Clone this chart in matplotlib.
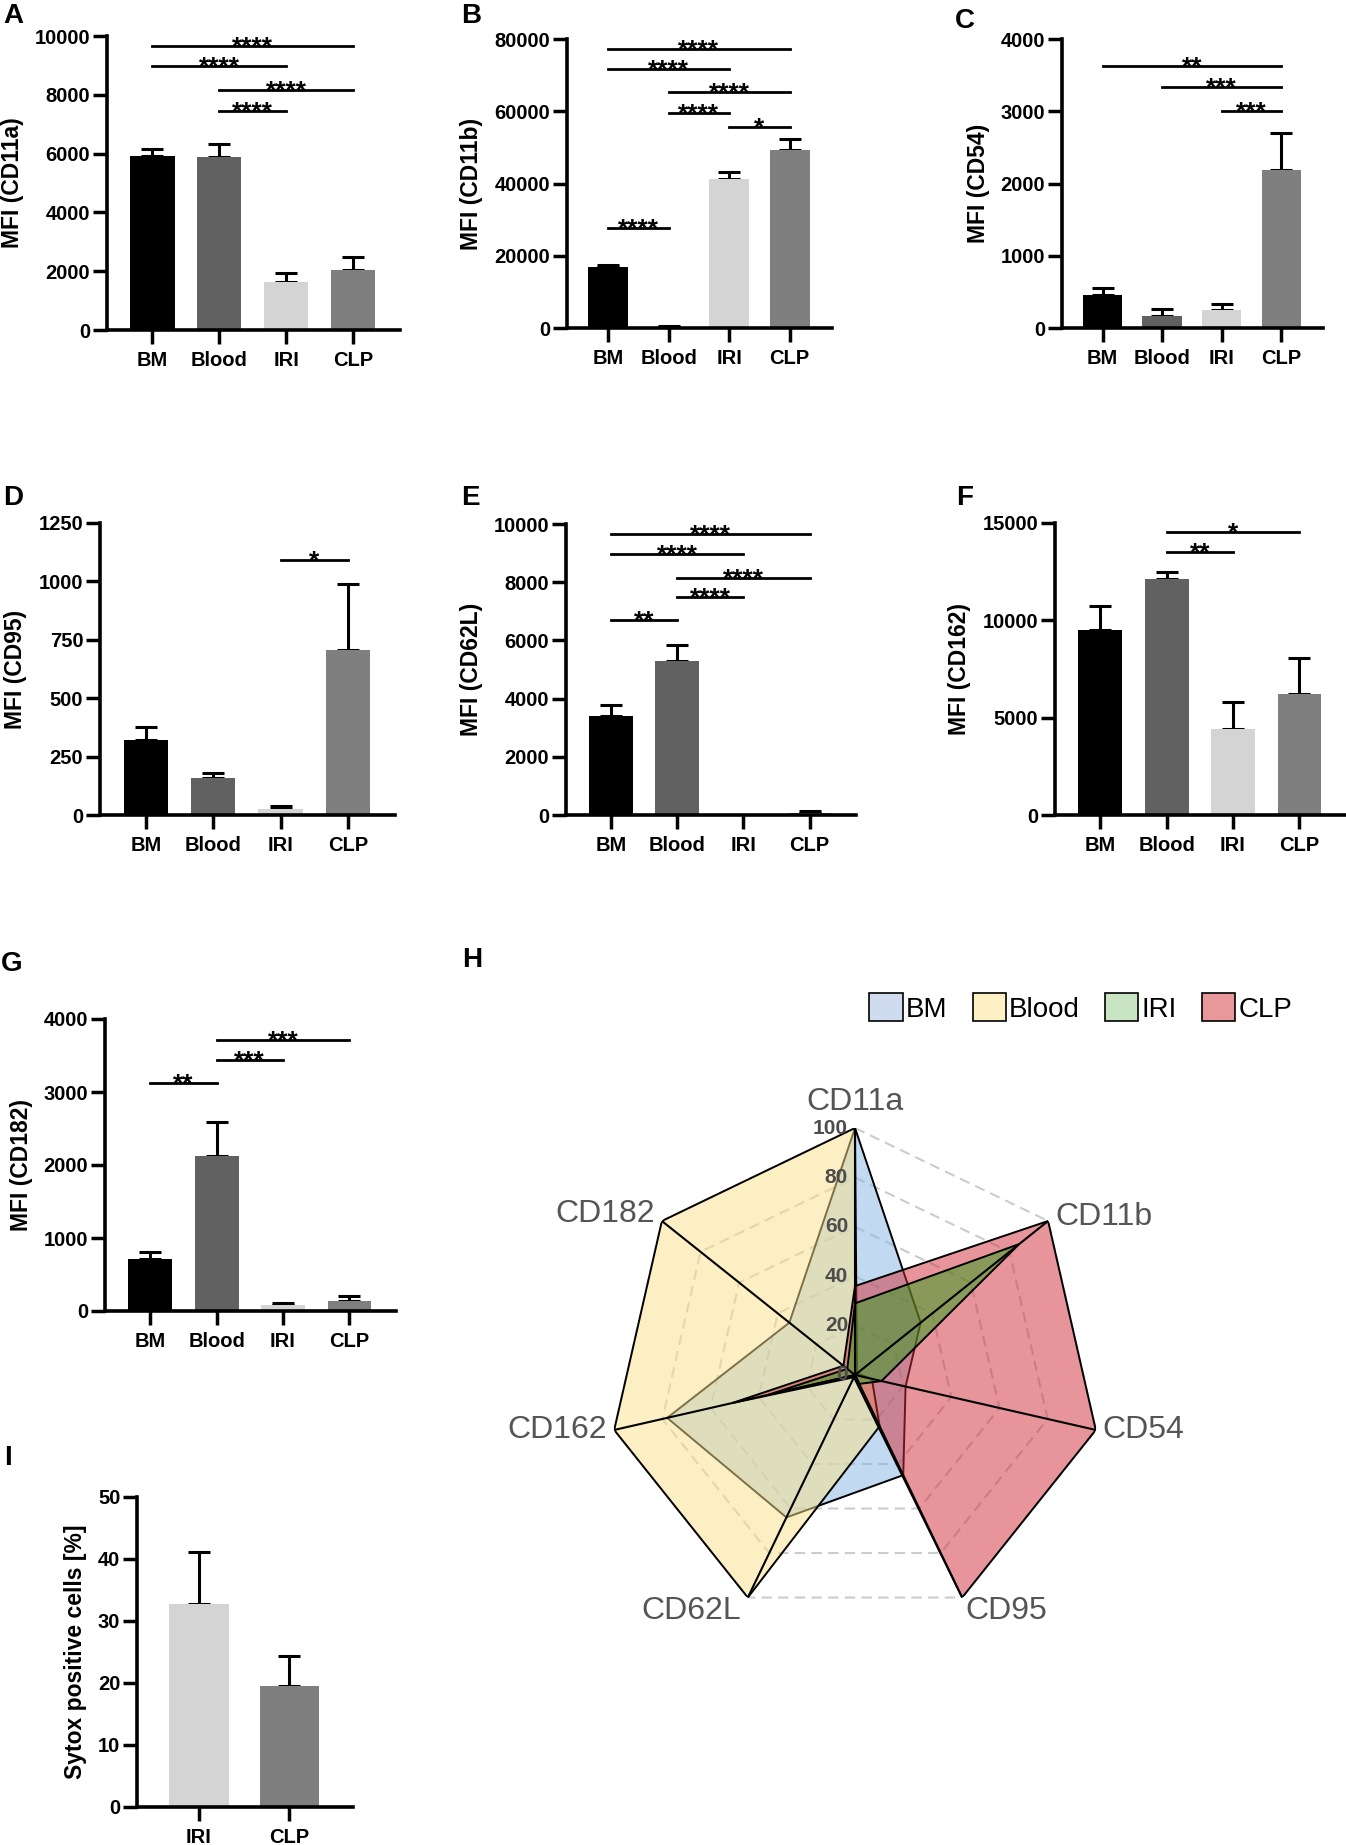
import numpy as np
import matplotlib
matplotlib.use('Agg')
import matplotlib.pyplot as plt
from matplotlib.colors import to_rgba
from matplotlib.patches import Patch

plt.rcParams['font.family'] = ['Liberation Sans', 'DejaVu Sans']

# groupes et couleurs des barres
groupes = ['BM', 'Blood', 'IRI', 'CLP']
gris = ['#000000', '#616161', '#d4d4d4', '#7f7f7f']

# moyennes / erreurs
cd11a_moy = [5920, 5900, 1640, 2040]
cd11a_err = [250, 410, 310, 450]
cd11b_moy = [16800, 350, 41200, 49200]
cd11b_err = [550, 150, 1950, 3100]
cd54_moy = [460, 160, 245, 2180]
cd54_err = [100, 100, 90, 520]
cd95_moy = [320, 160, 25, 707]
cd95_err = [55, 18, 15, 280]
cd62l_moy = [3400, 5300, 10, 60]
cd62l_err = [380, 530, 5, 80]
cd162_moy = [9480, 12120, 4400, 6200]
cd162_err = [1270, 360, 1380, 1850]
cd182_moy = [714, 2130, 82, 137]
cd182_err = [96, 465, 32, 73]
sytox_groupes = ['IRI', 'CLP']
sytox_moy = [32.7, 19.5]
sytox_err = [8.5, 4.8]

# comparaisons : (groupe 1, groupe 2), hauteur, etoiles
cd11a_paires = [(0, 3), (0, 2), (1, 3), (1, 2)]
cd11a_hauteurs = [9660, 8980, 8160, 7460]
cd11a_etoiles = ['****', '****', '****', '****']
cd11b_paires = [(0, 3), (0, 2), (1, 3), (1, 2), (2, 3), (0, 1)]
cd11b_hauteurs = [77200, 71800, 65300, 59500, 55600, 27600]
cd11b_etoiles = ['****', '****', '****', '****', '*', '****']
cd54_paires = [(0, 3), (1, 3), (2, 3)]
cd54_hauteurs = [3630, 3340, 3010]
cd54_etoiles = ['**', '***', '***']
cd95_paires = [(2, 3)]
cd95_hauteurs = [1090]
cd95_etoiles = ['*']
cd62l_paires = [(0, 3), (0, 2), (1, 3), (1, 2), (0, 1)]
cd62l_hauteurs = [9660, 8970, 8140, 7480, 6710]
cd62l_etoiles = ['****', '****', '****', '****', '**']
cd162_paires = [(1, 3), (1, 2)]
cd162_hauteurs = [14520, 13490]
cd162_etoiles = ['*', '**']
cd182_paires = [(1, 3), (1, 2), (0, 1)]
cd182_hauteurs = [3716, 3437, 3130]
cd182_etoiles = ['***', '***', '**']

# radar (% du max)
radar_noms = ['CD11a', 'CD11b', 'CD54', 'CD95', 'CD62L', 'CD162', 'CD182']
radar_bm = [100, 34, 21, 45, 64, 78, 34]
radar_blood = [100, 1, 7, 23, 100, 100, 100]
radar_iri = [29, 85, 11, 4, 0, 36, 4]
radar_clp = [36, 100, 100, 100, 1, 51, 6]
radar_couleurs = ['#87b7e5', '#fbe189', '#2c9e1b', '#d12d37']
legende_couleurs = ['#cfdcf0', '#fdf0c4', '#c8e4c0', '#e89898']
radar_graduations = [0, 20, 40, 60, 80, 100]

W, H = 1346, 1845
fig = plt.figure(figsize=(W / 100, H / 100), dpi=100)


def axes_px(gauche, droite, y0, yhaut):
    '''axes placés en pixels (origine en haut à gauche)'''
    return fig.add_axes([gauche / W, 1 - y0 / H, (droite - gauche) / W, (y0 - yhaut) / H])


def barres(ax, cats, moy, err, couleurs, ymax, pas, ylabel,
           paires=(), hauteurs=(), etoiles=()):
    n = len(cats)
    x = np.arange(n)
    ax.bar(x, moy, width=0.66, color=couleurs, zorder=2)
    ax.errorbar(x, moy, yerr=[np.zeros(n), err], fmt='none', ecolor='black',
                elinewidth=2.2, capsize=8, capthick=2.2, zorder=1)
    ax.set_xlim(-0.68, n - 1 + 0.7)
    ax.set_ylim(0, ymax)
    ax.set_xticks(x, cats)
    ax.set_yticks(np.arange(0, ymax + pas / 2, pas))
    for s in ['top', 'right']:
        ax.spines[s].set_visible(False)
    for s in ['left', 'bottom']:
        ax.spines[s].set_linewidth(2.6)
    ax.tick_params(axis='y', width=2.5, length=10, labelsize=14.5, pad=2)
    ax.tick_params(axis='x', width=2.5, length=10, labelsize=14.5, pad=5)
    for lab in ax.get_xticklabels() + ax.get_yticklabels():
        lab.set_fontweight('bold')
    ax.set_ylabel(ylabel, fontsize=16.5, fontweight='bold', labelpad=8)
    # barres de significativité
    for (a, b), h, e in zip(paires, hauteurs, etoiles):
        ax.plot([a, b], [h, h], color='black', lw=2, clip_on=False, zorder=3)
        ax.annotate(e, xy=((a + b) / 2, h), xytext=(0, -6), textcoords='offset points',
                    ha='center', va='baseline', fontsize=19, fontweight='bold')


axA = axes_px(107, 400, 330, 36)
barres(axA, groupes, cd11a_moy, cd11a_err, gris, 10000, 2000, 'MFI (CD11a)',
       cd11a_paires, cd11a_hauteurs, cd11a_etoiles)
axB = axes_px(567, 832, 328, 39)
barres(axB, groupes, cd11b_moy, cd11b_err, gris, 80000, 20000, 'MFI (CD11b)',
       cd11b_paires, cd11b_hauteurs, cd11b_etoiles)
axC = axes_px(1062, 1323, 328, 39)
barres(axC, groupes, cd54_moy, cd54_err, gris, 4000, 1000, 'MFI (CD54)',
       cd54_paires, cd54_hauteurs, cd54_etoiles)
axD = axes_px(100, 395, 815, 523)
barres(axD, groupes, cd95_moy, cd95_err, gris, 1250, 250, 'MFI (CD95)',
       cd95_paires, cd95_hauteurs, cd95_etoiles)
axE = axes_px(566, 856, 815, 524)
barres(axE, groupes, cd62l_moy, cd62l_err, gris, 10000, 2000, 'MFI (CD62L)',
       cd62l_paires, cd62l_hauteurs, cd62l_etoiles)
axF = axes_px(1055, 1346, 815, 523)
barres(axF, groupes, cd162_moy, cd162_err, gris, 15000, 5000, 'MFI (CD162)',
       cd162_paires, cd162_hauteurs, cd162_etoiles)
axG = axes_px(105, 396, 1311, 1019)
barres(axG, groupes, cd182_moy, cd182_err, gris, 4000, 1000, 'MFI (CD182)',
       cd182_paires, cd182_hauteurs, cd182_etoiles)
axI = axes_px(137, 353, 1807, 1497)
barres(axI, sytox_groupes, sytox_moy, sytox_err, gris[2:], 50, 10, 'Sytox positive cells [%]')

# lettres des panneaux
lettres = {'A': (3, 3), 'B': (461, 3), 'C': (955, 8), 'D': (3, 485), 'E': (461, 485),
           'F': (956, 485), 'G': (1, 951), 'H': (462, 947), 'I': (4, 1445)}
for l, (px, py) in lettres.items():
    fig.text(px / W, 1 - py / H, l, fontsize=20, fontweight='bold', ha='left', va='top')

# radar
cx, cy, R = 855, 1375, 247
axH = fig.add_axes([(cx - R) / W, 1 - (cy + R) / H, 2 * R / W, 2 * R / H], projection='polar')
axH.set_theta_offset(np.pi / 2)
axH.set_theta_direction(-1)
axH.set_ylim(0, 100)
axH.grid(False)
axH.spines['polar'].set_visible(False)
axH.set_xticks([])
axH.set_yticks([])
axH.patch.set_visible(False)

angles = np.arange(len(radar_noms)) * 2 * np.pi / len(radar_noms)
angles_f = np.append(angles, angles[0])
for r in radar_graduations[1:]:
    axH.plot(angles_f, [r] * len(angles_f), ls=(0, (5, 3)), color='#cccccc', lw=1.5, zorder=0)

# ordre de dessin : BM, Blood, CLP puis IRI par-dessus
series = [radar_bm, radar_blood, radar_clp, radar_iri]
couleurs = [radar_couleurs[0], radar_couleurs[1], radar_couleurs[3], radar_couleurs[2]]
for vals, c in zip(series, couleurs):
    v = np.append(vals, vals[0])
    axH.fill(angles_f, v, facecolor=to_rgba(c, 0.5), edgecolor='black', lw=1.4, zorder=2)

# rayons noirs du centre vers chaque sommet
for a in angles:
    axH.plot([a, a], [0, 100], color='black', lw=1.5, zorder=3)

for r in radar_graduations:
    axH.annotate(str(r), xy=(0, r), xytext=(-5, 0), textcoords='offset points',
                 ha='right', va='center', fontsize=15, fontweight='bold', color='#4d4d4d',
                 zorder=5)

placement = [('center', 'bottom', 0, 8), ('left', 'center', 5, 3), ('left', 'center', 5, 0),
             ('left', 'center', 2, -10), ('right', 'center', -5, -10), ('right', 'center', -5, 0),
             ('right', 'center', -5, 5)]
for nom, a, (ha, va, dx, dy) in zip(radar_noms, angles, placement):
    axH.annotate(nom, xy=(a, 100), xytext=(dx, dy), textcoords='offset points',
                 ha=ha, va=va, fontsize=23, color='#555555', annotation_clip=False)

poignees = [Patch(facecolor=c, edgecolor='black', lw=1.2) for c in legende_couleurs]
fig.legend(poignees, groupes, loc='center', bbox_to_anchor=(1081 / W, 1 - 1008 / H), ncol=4,
           frameon=False, fontsize=20, handlelength=1.2, handleheight=1.15,
           handletextpad=0.12, columnspacing=0.9, borderpad=0)

fig.savefig('out.png', dpi=100)
